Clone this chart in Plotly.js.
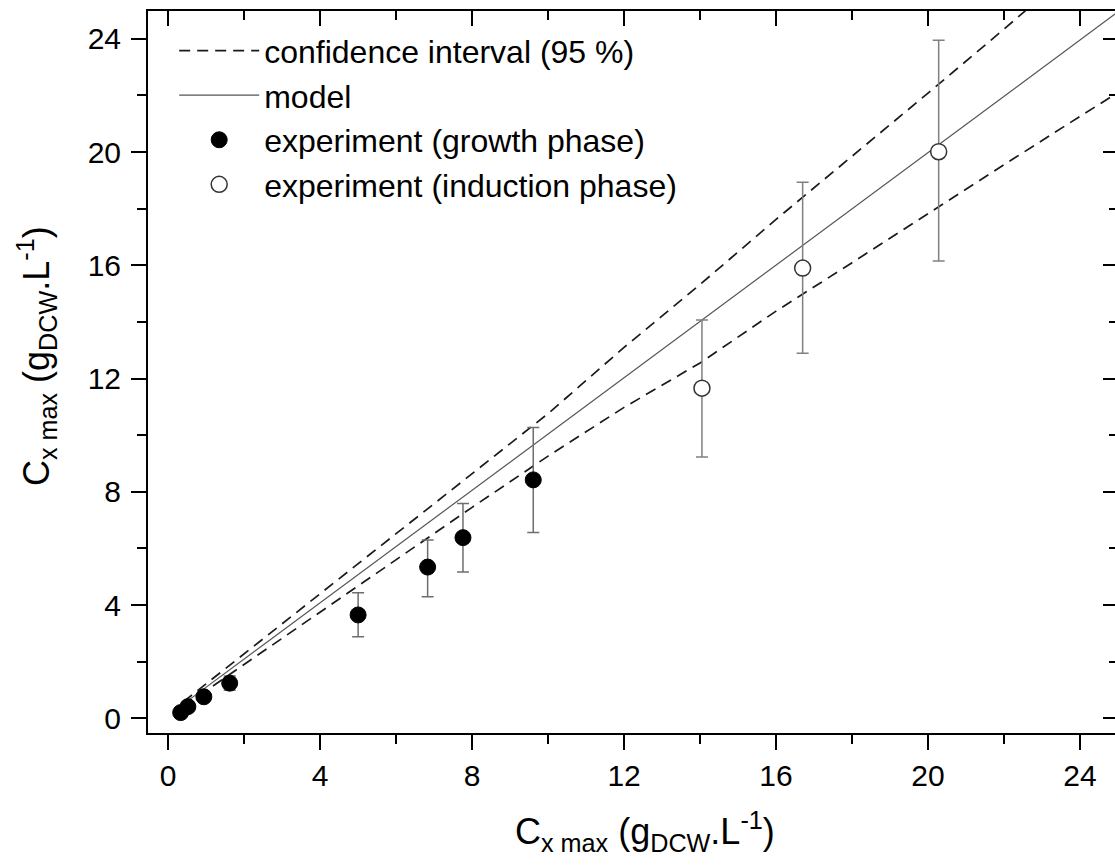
<!DOCTYPE html>
<html>
<head>
<meta charset="utf-8">
<script src="https://cdn.plot.ly/plotly-3.0.1.min.js"></script>
<style>
html,body{margin:0;padding:0;overflow:hidden;background:#fff;}
#chart{width:1120px;height:865px;}
</style>
</head>
<body>
<div id="chart"></div>
<script>
// ---- data ----
const bandX     = [0.4, 2, 4, 6, 8, 10, 12, 14, 16, 18, 20, 22, 24, 25];
const bandUpper = [0.58, 2.28, 4.4, 6.5, 8.63, 10.76, 13.1, 15.32, 17.62, 19.84, 22.08, 24.34, 26.61, 27.8];
const bandLower = [0.42, 1.9, 3.75, 5.6, 7.45, 9.26, 10.98, 12.55, 14.38, 16.09, 17.83, 19.55, 21.26, 22.1];

const modelX = [0.4, 25];
const modelY = [0.5, 24.95];

const growthX     = [0.33, 0.52, 0.94, 1.62, 5.0, 6.83, 7.76, 9.61];
const growthY     = [0.2, 0.41, 0.76, 1.24, 3.65, 5.34, 6.38, 8.42];
const growthErrUp = [0.05, 0.08, 0.15, 0.25, 0.78, 0.96, 1.21, 1.85];
const growthErrDn = [0.05, 0.08, 0.15, 0.25, 0.77, 1.05, 1.21, 1.86];

const inductionX     = [14.05, 16.7, 20.28];
const inductionY     = [11.66, 15.9, 20.01];
const inductionErrUp = [2.41, 3.03, 3.94];
const inductionErrDn = [2.43, 3.01, 3.86];

const legendNames = ['confidence interval (95 %)', 'model', 'experiment (growth phase)', 'experiment (induction phase)'];
const axisTitle = 'C<sub>x max</sub> (g<sub>DCW</sub>.L<sup>-1</sup>)';

const xRange = [-0.53, 25];
const yRange = [-0.52, 24.98];

const FONT = 'Arial, "Liberation Sans", Helvetica, sans-serif';

const traces = [
  {x: bandX, y: bandUpper, type: 'scatter', mode: 'lines', name: legendNames[0],
   legendgroup: 'ci', line: {color: '#1a1a1a', width: 1.7, dash: '11px,7px'}, hoverinfo: 'skip'},
  {x: bandX, y: bandLower, type: 'scatter', mode: 'lines', name: legendNames[0],
   legendgroup: 'ci', showlegend: false, line: {color: '#1a1a1a', width: 1.7, dash: '11px,7px'}, hoverinfo: 'skip'},
  {x: modelX, y: modelY, type: 'scatter', mode: 'lines', name: legendNames[1],
   line: {color: '#555555', width: 1.2}},
  {x: growthX, y: growthY, type: 'scatter', mode: 'markers', name: legendNames[2],
   marker: {color: '#000000', size: 16, symbol: 'circle', line: {color: '#000', width: 1}},
   error_y: {type: 'data', symmetric: false, array: growthErrUp, arrayminus: growthErrDn,
             color: '#6e6e6e', thickness: 1.5, width: 6}},
  {x: inductionX, y: inductionY, type: 'scatter', mode: 'markers', name: legendNames[3],
   marker: {color: '#ffffff', size: 16, symbol: 'circle', line: {color: '#333333', width: 1.5}},
   error_y: {type: 'data', symmetric: false, array: inductionErrUp, arrayminus: inductionErrDn,
             color: '#808080', thickness: 1.5, width: 6}}
];

const layout = {
  width: 1120, height: 865,
  margin: {l: 148, r: 2, t: 11, b: 132},
  paper_bgcolor: '#ffffff', plot_bgcolor: '#ffffff',
  font: {family: FONT, size: 30, color: '#000'},
  showlegend: true,
  legend: {x: 0.027, y: 0.983, xanchor: 'left', yanchor: 'top',
           bgcolor: 'rgba(0,0,0,0)', borderwidth: 0,
           font: {family: FONT, size: 32, color: '#000'},
           itemwidth: 80, tracegroupgap: 0},
  xaxis: {
    range: xRange, autorange: false, showgrid: false, zeroline: false,
    showline: true, linecolor: '#000', linewidth: 2,
    ticks: 'outside', ticklen: 15, tickwidth: 2, tickcolor: '#000',
    tick0: 0, dtick: 4,
    minor: {ticks: 'outside', ticklen: 9, tickwidth: 2, tickcolor: '#000', dtick: 2},
    tickfont: {family: FONT, size: 30}
  },
  yaxis: {
    range: yRange, autorange: false, showgrid: false, zeroline: false,
    showline: true, linecolor: '#000', linewidth: 2,
    ticks: 'outside', ticklen: 15, tickwidth: 2, tickcolor: '#000',
    tick0: 0, dtick: 4, ticklabelstandoff: 4,
    minor: {ticks: 'outside', ticklen: 9, tickwidth: 2, tickcolor: '#000', dtick: 2},
    tickfont: {family: FONT, size: 30}
  },
  xaxis2: {
    overlaying: 'x', side: 'top', range: xRange, autorange: false,
    showgrid: false, zeroline: false, showticklabels: false,
    showline: true, linecolor: '#000', linewidth: 2,
    ticks: 'inside', ticklen: 15, tickwidth: 2, tickcolor: '#000',
    tick0: 0, dtick: 4,
    minor: {ticks: 'inside', ticklen: 9, tickwidth: 2, tickcolor: '#000', dtick: 2}
  },
  yaxis2: {
    overlaying: 'y', side: 'right', range: yRange, autorange: false,
    showgrid: false, zeroline: false, showticklabels: false,
    showline: true, linecolor: '#000', linewidth: 2,
    ticks: 'inside', ticklen: 15, tickwidth: 2, tickcolor: '#000',
    tick0: 0, dtick: 4,
    minor: {ticks: 'inside', ticklen: 9, tickwidth: 2, tickcolor: '#000', dtick: 2}
  },
  annotations: [
    {text: axisTitle, xref: 'paper', yref: 'paper', x: 0.5124, y: -0.136,
     xanchor: 'center', yanchor: 'middle', showarrow: false,
     font: {family: FONT, size: 36, color: '#000'}},
    {text: axisTitle, xref: 'paper', yref: 'paper', x: -0.1155, y: 0.522,
     xanchor: 'center', yanchor: 'middle', showarrow: false, textangle: -90,
     font: {family: FONT, size: 36, color: '#000'}}
  ]
};

// invisible helper trace so the mirrored top/right axes are drawn
traces.push({x: [xRange[0]], y: [yRange[0]], xaxis: 'x2', yaxis: 'y2', type: 'scatter',
             mode: 'markers', marker: {opacity: 0}, showlegend: false, hoverinfo: 'skip'});

Plotly.newPlot('chart', traces, layout, {displayModeBar: false, staticPlot: true});
</script>
</body>
</html>
